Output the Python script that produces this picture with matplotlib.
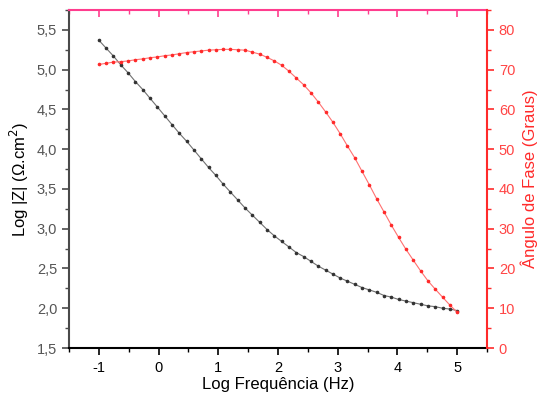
import matplotlib
matplotlib.use("Agg")
import matplotlib.pyplot as plt
from matplotlib.ticker import MultipleLocator, FuncFormatter

plt.rcParams['font.family'] = ['Liberation Sans', 'DejaVu Sans']

# log10 of frequency (Hz)
log_freq = [-1.000, -0.878, -0.755, -0.633, -0.510, -0.388, -0.265, -0.143, -0.020, 0.102,
            0.224, 0.347, 0.469, 0.592, 0.714, 0.837, 0.959, 1.082, 1.204, 1.327,
            1.449, 1.571, 1.694, 1.816, 1.939, 2.061, 2.184, 2.306, 2.429, 2.551,
            2.673, 2.796, 2.918, 3.041, 3.163, 3.286, 3.408, 3.531, 3.653, 3.776,
            3.898, 4.020, 4.143, 4.265, 4.388, 4.510, 4.633, 4.755, 4.878, 5.000]

# log |Z| (Ohm.cm2)
log_z = [5.37, 5.27, 5.17, 5.06, 4.96, 4.85, 4.75, 4.64, 4.53, 4.42,
         4.31, 4.20, 4.10, 3.99, 3.88, 3.77, 3.67, 3.56, 3.46, 3.36,
         3.26, 3.17, 3.08, 2.99, 2.91, 2.84, 2.77, 2.70, 2.65, 2.59,
         2.53, 2.48, 2.43, 2.38, 2.34, 2.30, 2.26, 2.23, 2.20, 2.16,
         2.14, 2.11, 2.09, 2.07, 2.05, 2.03, 2.02, 2.00, 1.99, 1.97]

# phase angle (degrees)
phase = [71.3, 71.6, 71.9, 72.0, 72.2, 72.5, 72.7, 73.0, 73.2, 73.5,
         73.7, 74.0, 74.3, 74.5, 74.7, 74.9, 75.0, 75.1, 75.1, 75.0,
         74.9, 74.4, 73.9, 73.1, 72.2, 71.1, 69.6, 67.9, 66.2, 64.2,
         61.9, 59.4, 56.8, 53.9, 50.8, 47.8, 44.4, 41.0, 37.5, 34.2,
         30.9, 27.8, 24.8, 22.1, 19.4, 16.9, 14.8, 12.8, 10.8, 9.0]

RED = '#ff2a2a'
RED_TXT = '#ff4545'
PINK = '#ff3d8e'
GRAY = '#4a4a4a'

fig = plt.figure(figsize=(5.37, 4.05), dpi=100)
ax = fig.add_axes([69/537, 1-348/405, (487-69)/537, (348-10)/405])
ax2 = ax.twinx()

ax.plot(log_freq, log_z, color='#707070', lw=0.8, marker='o', ms=1.6,
        mfc='#333333', mec='#333333', zorder=3)
ax2.plot(log_freq, phase, color='#ff7070', lw=0.8, marker='o', ms=1.6,
         mfc='#ff2a2a', mec='#ff2a2a', zorder=3)

ax.set_xlim(-1.5, 5.5)
ax.set_ylim(1.5, 5.75)
ax2.set_ylim(0, 85)

ax.xaxis.set_major_locator(MultipleLocator(1))
ax.xaxis.set_minor_locator(MultipleLocator(0.5))
ax.yaxis.set_major_locator(MultipleLocator(0.5))
ax.yaxis.set_minor_locator(MultipleLocator(0.25))
ax2.yaxis.set_major_locator(MultipleLocator(10))
ax2.yaxis.set_minor_locator(MultipleLocator(5))

ax.yaxis.set_major_formatter(FuncFormatter(lambda v, p: f"{v:.1f}".replace('.', ',')))
ax.xaxis.set_major_formatter(FuncFormatter(lambda v, p: f"{v:.0f}"))

# spines
ax.spines['left'].set_color(GRAY)
ax.spines['bottom'].set_color('black')
ax.spines['top'].set_color(PINK)
ax.spines['right'].set_visible(False)
for s in ['left', 'top', 'bottom']:
    ax2.spines[s].set_visible(False)
ax2.spines['right'].set_color(RED)
for sp in list(ax.spines.values()) + [ax2.spines['right']]:
    sp.set_linewidth(1.5)

ax.tick_params(axis='x', which='major', direction='out', length=5, width=1.2,
               color='black', labelcolor='black', labelsize=10.5, pad=4)
ax.tick_params(axis='x', which='minor', direction='out', length=3, width=1.0, color='black')
ax.tick_params(axis='y', which='major', direction='out', length=5, width=1.2,
               color=GRAY, labelcolor='#555555', labelsize=10.5)
ax.tick_params(axis='y', which='minor', direction='out', length=3, width=1.0, color=GRAY)
ax2.tick_params(axis='y', which='major', direction='out', length=5, width=1.2,
                color=RED, labelcolor=RED_TXT, labelsize=10.5)
ax2.tick_params(axis='y', which='minor', direction='out', length=3, width=1.0, color=RED)

# top axis ticks (no labels)
top = ax.secondary_xaxis('top')
top.spines['top'].set_visible(False)
top.xaxis.set_major_locator(MultipleLocator(1))
top.xaxis.set_minor_locator(MultipleLocator(0.5))
top.tick_params(axis='x', which='major', direction='in', length=5, width=1.2,
                color=PINK, labeltop=False)
top.tick_params(axis='x', which='minor', direction='in', length=3, width=1.0, color=PINK)

ax.set_xlabel('Log Frequência (Hz)', fontsize=12, labelpad=2)
ax.set_ylabel('Log |Z| (Ω.cm$^2$)', fontsize=12, labelpad=4)
ax2.set_ylabel('Ângulo de Fase (Graus)', fontsize=12, color=RED, labelpad=4)

fig.savefig('out.png', dpi=100)
